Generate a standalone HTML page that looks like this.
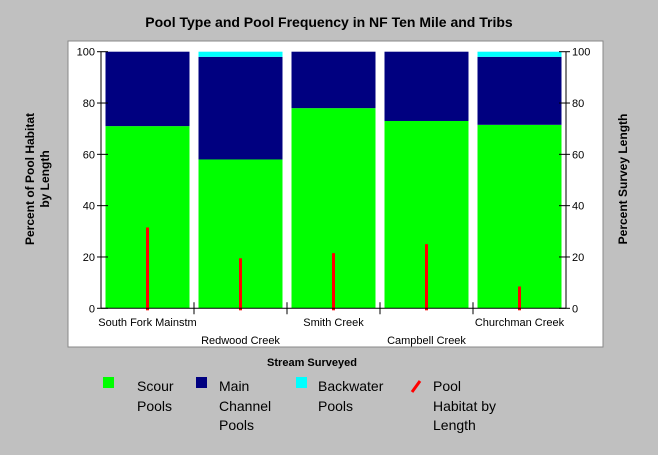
<!DOCTYPE html>
<html><head><meta charset="utf-8"><style>
body{margin:0;background:#c0c0c0;}
svg{display:block;font-family:"Liberation Sans",Arial,sans-serif;}
</style></head><body>
<svg width="658" height="455">
<rect x="0" y="0" width="658" height="455" fill="#c0c0c0"/>
<text x="329" y="27" text-anchor="middle" font-size="14" font-weight="bold">Pool Type and Pool Frequency in NF Ten Mile and Tribs</text>
<rect x="68" y="41" width="535" height="306" fill="#fff" stroke="#888"/>
<g id="plot"></g>
<text transform="translate(40,179) rotate(-90)" text-anchor="middle" font-size="12" font-weight="bold"><tspan x="0" dy="-6">Percent of Pool Habitat</tspan><tspan x="0" dy="15">by Length</tspan></text>
<text transform="translate(627,179) rotate(-90)" text-anchor="middle" font-size="12" font-weight="bold">Percent Survey Length</text>
<text x="312" y="366" text-anchor="middle" font-size="11" font-weight="bold">Stream Surveyed</text>
<g font-size="14">
<g><rect x="103" y="377" width="11" height="11" fill="#00ff00"/><text x="137" y="391">Scour</text><text x="137" y="411">Pools</text></g>
<g><rect x="196" y="377" width="11" height="11" fill="#000080"/><text x="219" y="391">Main</text><text x="219" y="411">Channel</text><text x="219" y="430">Pools</text></g>
<g><rect x="296" y="377" width="11" height="11" fill="#00ffff"/><text x="318" y="391">Backwater</text><text x="318" y="411">Pools</text></g>
<g><line x1="412" y1="392" x2="420" y2="381" stroke="#ff0000" stroke-width="3"/><text x="433" y="391">Pool</text><text x="433" y="411">Habitat by</text><text x="433" y="430">Length</text></g>
</g>
</svg>
<script>
const categories=["South Fork Mainstm","Redwood Creek","Smith Creek","Campbell Creek","Churchman Creek"];
const scour=[71,58,78,73,71.5];
const mainChannel=[29,40,22,27,26.5];
const backwater=[0,2,0,0,2];
const poolHabitat=[31.5,19.5,21.5,25,8.5];
const yTicks=[0,20,40,60,80,100];
const NS="http://www.w3.org/2000/svg";
const g=document.getElementById('plot');
const L=101,R=566,T=51.7,B=308.3;
const cw=(R-L)/categories.length;
const y=v=>B-(B-T)*v/100;
const x=i=>L+cw*i;
function mk(tag,a){const e=document.createElementNS(NS,tag);for(const k in a)e.setAttribute(k,a[k]);g.appendChild(e);return e;}
categories.forEach((c,i)=>{
  const bx=x(i)+4.5,bw=cw-9;
  let r=mk('rect',{x:bx,y:y(scour[i]),width:bw,height:B-y(scour[i]),fill:'#00ff00'});
  
  
  const top2=scour[i]+mainChannel[i];
  r=mk('rect',{x:bx,y:y(top2),width:bw,height:y(scour[i])-y(top2),fill:'#000080'});
  
  
  const top3=top2+backwater[i];
  r=mk('rect',{x:bx,y:y(top3),width:bw,height:y(top2)-y(top3),fill:'#00ffff'});
  
  
  const cx=x(i)+cw/2;
  r=mk('rect',{x:cx-1.5,y:y(poolHabitat[i]),width:3,height:B-y(poolHabitat[i])+2,fill:'#ff0000'});
  
  
  const t=mk('text',{x:cx,y:i%2?344:326,'text-anchor':'middle','font-size':11});
  t.textContent=c;
  
  
  if(i>0){const tk=mk('line',{x1:x(i),x2:x(i),y1:B-6,y2:B+6,stroke:'#000'});
  
  }
});
yTicks.forEach(v=>{
  [[L-4,L+7,L-6,'end'],[R-7,R+4,R+6,'start']].forEach(([a,b,tx,an])=>{
    const l=mk('line',{x1:a,x2:b,y1:y(v),y2:y(v),stroke:'#000'});
    
    
    const t=mk('text',{x:tx,y:y(v)+4,'text-anchor':an,'font-size':11});
    t.textContent=v;
    
    
  });
});
let ax=mk('line',{x1:L,x2:L,y1:T,y2:B,stroke:'#000'});


ax=mk('line',{x1:R,x2:R,y1:T,y2:B,stroke:'#000'});


ax=mk('line',{x1:L,x2:R,y1:B,y2:B,stroke:'#000'});


</script>
</body></html>
